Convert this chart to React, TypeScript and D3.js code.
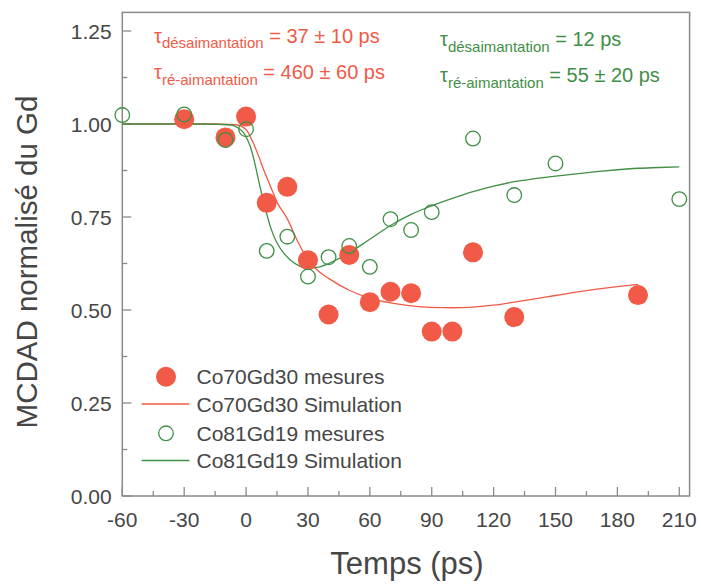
import React from 'react';
import * as d3 from 'd3';

// Measured data
const redTimes = [-30, -10, 0, 10, 20, 30, 40, 50, 60, 70, 80, 90, 100, 110, 130, 190];
const redValues = [1.013, 0.964, 1.02, 0.788, 0.831, 0.634, 0.488, 0.648, 0.521, 0.549, 0.545, 0.442, 0.442, 0.655, 0.481, 0.54];
const greenTimes = [-60, -30, -10, 0, 10, 20, 30, 40, 50, 60, 70, 80, 90, 110, 130, 150, 210];
const greenValues = [1.024, 1.026, 0.957, 0.986, 0.659, 0.697, 0.59, 0.642, 0.672, 0.616, 0.744, 0.715, 0.763, 0.961, 0.809, 0.894, 0.798];

// Simulations
const redSimTimes = [-60, -20, -5, 0, 3, 6, 9, 12, 15, 20, 25, 30, 35, 40, 50, 60, 70, 80, 90, 100, 110, 120, 130, 140, 150, 160, 170, 180, 190];
const redSimValues = [1, 1, 0.998, 0.985, 0.955, 0.915, 0.87, 0.83, 0.79, 0.745, 0.685, 0.635, 0.605, 0.585, 0.553, 0.532, 0.519, 0.511, 0.507, 0.506, 0.508, 0.513, 0.521, 0.53, 0.539, 0.548, 0.556, 0.563, 0.569];
const greenSimTimes = [-60, -20, -8, -4, -1, 2, 4, 6, 9, 12, 15, 18, 22, 26, 30, 35, 40, 50, 60, 70, 80, 90, 100, 110, 120, 130, 140, 150, 160, 170, 180, 190, 200, 210];
const greenSimValues = [1, 1, 0.998, 0.99, 0.975, 0.94, 0.9, 0.85, 0.78, 0.72, 0.68, 0.655, 0.632, 0.618, 0.612, 0.615, 0.625, 0.654, 0.69, 0.727, 0.757, 0.78, 0.8, 0.818, 0.833, 0.845, 0.853, 0.86, 0.866, 0.872, 0.877, 0.881, 0.883, 0.885];

const xTicks = [-60, -30, 0, 30, 60, 90, 120, 150, 180, 210];
const xMinorTicks = [-45, -15, 15, 45, 75, 105, 135, 165, 195];
const yTicks = [0, 0.25, 0.5, 0.75, 1.0, 1.25];
const yMinorTicks = [0.125, 0.375, 0.625, 0.875, 1.125];

const legendLabels = ['Co70Gd30 mesures', 'Co70Gd30 Simulation', 'Co81Gd19 mesures', 'Co81Gd19 Simulation'];

const RED = '#f15a47';
const GREEN = '#3f8f46';
const AXIS = '#8a8a8a';
const TEXT = '#464646';
const FONT = '"Liberation Sans", Arial, sans-serif';

export default function App() {
  const x = d3.scaleLinear().domain([-60, 215]).range([122.3, 689.6]);
  const y = d3.scaleLinear().domain([0, 1.3]).range([496, 496 - 1.3 * 372]);
  const [x0, x1] = x.range();
  const [y0, y1] = y.range();

  const line = d3
    .line<[number, number]>()
    .x((d) => x(d[0]))
    .y((d) => y(d[1]))
    .curve(d3.curveMonotoneX);

  const redSim = redSimTimes.map((t, i) => [t, redSimValues[i]] as [number, number]);
  const greenSim = greenSimTimes.map((t, i) => [t, greenSimValues[i]] as [number, number]);

  const legendY = [376.7, 404, 433.3, 460.5];

  return (
    <svg
      width={701}
      height={585}
      style={{ position: 'absolute', left: 0, top: 0, background: '#fff' }}
      fontFamily={FONT}
    >
      <rect x={0} y={0} width={701} height={585} fill="#fff" />
      {/* frame */}
      <rect x={x0} y={y1} width={x1 - x0} height={y0 - y1} fill="none" stroke={AXIS} strokeWidth={1.5} />
      {/* x ticks */}
      {xTicks.map((t) => (
        <g key={'xt' + t}>
          <line x1={x(t)} x2={x(t)} y1={y0} y2={y0 - 9} stroke={AXIS} strokeWidth={1.3} />
          <text x={x(t)} y={527} textAnchor="middle" fontSize={21} fill={TEXT}>
            {t}
          </text>
        </g>
      ))}
      {xMinorTicks.map((t) => (
        <line key={'xm' + t} x1={x(t)} x2={x(t)} y1={y0} y2={y0 - 5} stroke={AXIS} strokeWidth={1.3} />
      ))}
      {/* y ticks */}
      {yTicks.map((t) => (
        <g key={'yt' + t}>
          <line x1={x0} x2={x0 + 9} y1={y(t)} y2={y(t)} stroke={AXIS} strokeWidth={1.3} />
          <text x={111.7} y={y(t) + 7.5} textAnchor="end" fontSize={21} fill={TEXT}>
            {t.toFixed(2)}
          </text>
        </g>
      ))}
      {yMinorTicks.map((t) => (
        <line key={'ym' + t} x1={x0} x2={x0 + 5} y1={y(t)} y2={y(t)} stroke={AXIS} strokeWidth={1.3} />
      ))}
      {/* axis titles */}
      <text x={407} y={574} textAnchor="middle" fontSize={31} fill={TEXT}>
        Temps (ps)
      </text>
      <text
        transform={`translate(36.5, 262) rotate(-90)`}
        textAnchor="middle"
        fontSize={29.5}
        fill={TEXT}
      >
        MCDAD normalisé du Gd
      </text>

      {/* simulation lines */}
      <path d={line(redSim) || ''} fill="none" stroke={RED} strokeWidth={1.3} />
      <path d={line(greenSim) || ''} fill="none" stroke={GREEN} strokeWidth={1.3} />

      {/* measurements */}
      {redTimes.map((t, i) => (
        <circle key={'r' + i} cx={x(t)} cy={y(redValues[i])} r={10} fill={RED} />
      ))}
      {greenTimes.map((t, i) => (
        <circle key={'g' + i} cx={x(t)} cy={y(greenValues[i])} r={7.3} fill="none" stroke={GREEN} strokeWidth={1.3} />
      ))}

      {/* annotations */}
      <text x={154} y={43.3} fontSize={20} fill={RED}>
        τ<tspan fontSize={15} dy={5}>désaimantation</tspan>
        <tspan dy={-5}> = 37 ± 10 ps</tspan>
      </text>
      <text x={154} y={79.3} fontSize={20} fill={RED}>
        τ<tspan fontSize={15} dy={5.5}>ré-aimantation</tspan>
        <tspan dy={-5.5}> = 460 ± 60 ps</tspan>
      </text>
      <text x={440} y={46} fontSize={20} fill={GREEN}>
        τ<tspan fontSize={15} dy={5.5}>désaimantation</tspan>
        <tspan dy={-5.5}> = 12 ps</tspan>
      </text>
      <text x={440} y={81.7} fontSize={20} fill={GREEN}>
        τ<tspan fontSize={15} dy={6.5}>ré-aimantation</tspan>
        <tspan dy={-6.5}> = 55 ± 20 ps</tspan>
      </text>

      {/* legend */}
      <circle cx={166} cy={legendY[0]} r={10} fill={RED} />
      <line x1={141.7} x2={189.3} y1={legendY[1]} y2={legendY[1]} stroke={RED} strokeWidth={1.3} />
      <circle cx={166} cy={legendY[2]} r={7.3} fill="none" stroke={GREEN} strokeWidth={1.3} />
      <line x1={141.7} x2={189.3} y1={legendY[3]} y2={legendY[3]} stroke={GREEN} strokeWidth={1.3} />
      {legendLabels.map((l, i) => (
        <text key={l} x={196.5} y={legendY[i] + 7.5} fontSize={21} fill={TEXT}>
          {l}
        </text>
      ))}
    </svg>
  );
}
